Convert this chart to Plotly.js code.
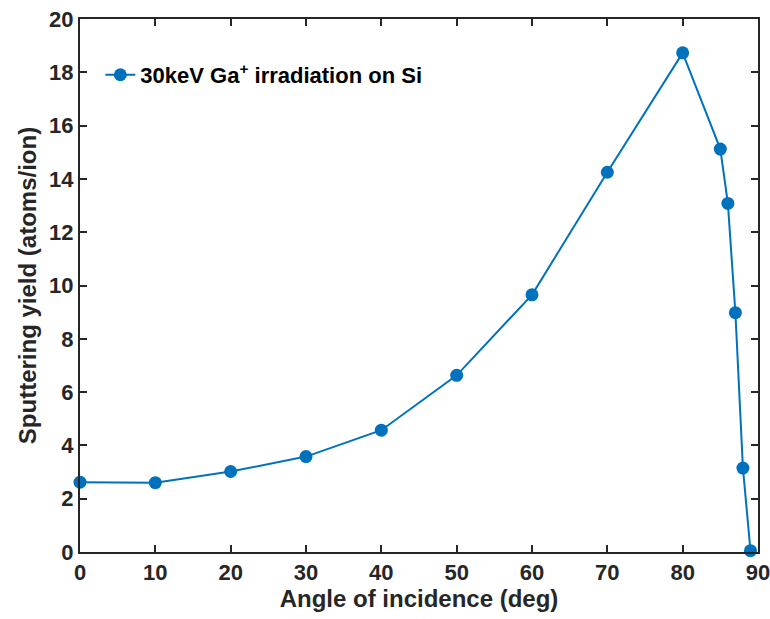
<!DOCTYPE html>
<html>
<head>
<meta charset="utf-8">
<script src="https://cdn.plot.ly/plotly-3.0.1.min.js"></script>
<style>
  html, body { margin: 0; padding: 0; background: #fff; }
  #chart { width: 770px; height: 619px; }
</style>
</head>
<body>
<div id="chart"></div>
<script>
// Incidence angle (deg) and sputtering yield (atoms/ion)
const angles = [0, 10, 20, 30, 40, 50, 60, 70, 80, 85, 86, 87, 88, 89];
const yields = [2.62, 2.6, 3.02, 3.58, 4.57, 6.63, 9.65, 14.25, 18.73, 15.12, 13.08, 8.98, 3.15, 0.05];
const seriesName = '30keV Ga<sup>+</sup> irradiation on Si';
const xTicks = [0, 10, 20, 30, 40, 50, 60, 70, 80, 90];
const yTicks = [0, 2, 4, 6, 8, 10, 12, 14, 16, 18, 20];

const blue = '#0072BD';
const axisColor = '#262626';
const fontFamily = 'Liberation Sans, Arial, Helvetica, sans-serif';

const trace = {
  x: angles,
  y: yields,
  name: seriesName,
  type: 'scatter',
  mode: 'lines+markers',
  line: { color: blue, width: 2 },
  marker: { color: blue, size: 13 },
  showlegend: true,
  cliponaxis: false
};

const axisCommon = {
  showgrid: false,
  zeroline: false,
  showline: true,
  linecolor: axisColor,
  linewidth: 2,
  mirror: 'ticks',
  ticks: 'inside',
  ticklen: 7,
  tickwidth: 2,
  tickcolor: axisColor,
  ticklabeloverflow: 'allow',
  tickfont: { family: fontFamily, size: 22, color: axisColor, weight: 'bold' }
};

const layout = {
  width: 770,
  height: 619,
  margin: { l: 80, r: 12, t: 19, b: 67 },
  paper_bgcolor: '#ffffff',
  plot_bgcolor: '#ffffff',
  font: { family: fontFamily, color: axisColor },
  xaxis: Object.assign({}, axisCommon, {
    range: [0, 90],
    tickvals: xTicks,
    ticktext: xTicks.map(String),
    title: { text: 'Angle of incidence (deg)', font: { family: fontFamily, size: 24, color: axisColor, weight: 'bold' }, standoff: 4 }
  }),
  yaxis: Object.assign({}, axisCommon, {
    range: [0, 20],
    tickvals: yTicks,
    ticktext: yTicks.map(String),
    title: { text: 'Sputtering yield (atoms/ion)', font: { family: fontFamily, size: 24, color: axisColor, weight: 'bold' }, standoff: 6 }
  }),
  legend: {
    x: 0.03, y: 0.895, xanchor: 'left', yanchor: 'middle',
    bgcolor: 'rgba(255,255,255,0)',
    borderwidth: 0,
    font: { family: fontFamily, size: 22, color: '#000', weight: 'bold' }
  }
};

Plotly.newPlot('chart', [trace], layout, { displayModeBar: false, staticPlot: true });
</script>
</body>
</html>
